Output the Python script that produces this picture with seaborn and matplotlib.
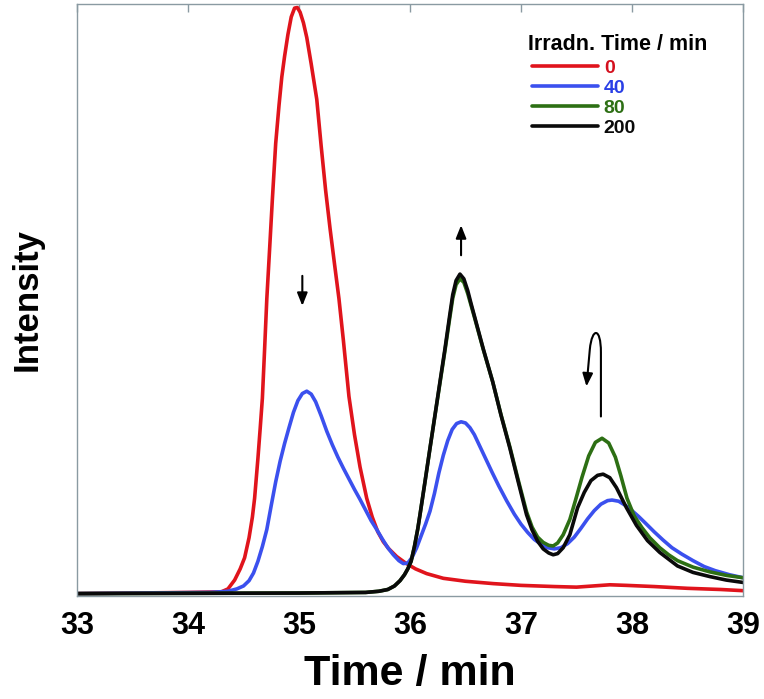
import matplotlib
matplotlib.use("Agg")
import matplotlib.pyplot as plt
import pandas as pd
import seaborn as sns
from matplotlib.lines import Line2D
from matplotlib.patches import FancyArrowPatch
from matplotlib.path import Path

# irradiation times (min) and their chromatogram traces
irr_labels = ["0", "40", "80", "200"]

red_t = [33.0, 34.0, 34.30, 34.36, 34.42, 34.47, 34.51, 34.55, 34.58, 34.60, 34.63,
         34.65, 34.67, 34.69, 34.71, 34.735, 34.76, 34.79, 34.82, 34.845, 34.87, 34.90,
         34.93, 34.96, 34.985, 35.01, 35.04, 35.07, 35.11, 35.16, 35.20, 35.24, 35.28,
         35.32, 35.36, 35.40, 35.45, 35.50, 35.55, 35.61, 35.66, 35.71, 35.76, 35.81,
         35.88, 35.96, 36.05, 36.15, 36.30, 36.50, 36.75, 37.00, 37.30, 37.50, 37.65,
         37.80, 37.95, 38.20, 38.50, 38.80, 39.0]
red_v = [0.0, 0.2, 0.3, 0.8, 2.3, 4.2, 6.1, 9.5, 13.0, 16.2, 23.0,
         28.0, 33.2, 41.5, 50.1, 58.5, 67.0, 76.5, 83.0, 87.8, 91.3, 95.0,
         98.0, 99.5, 99.6, 98.8, 97.0, 94.5, 90.0, 84.0, 76.0, 68.5, 62.0,
         56.0, 50.1, 43.0, 33.5, 27.0, 21.5, 16.2, 13.0, 10.5, 8.8, 7.6,
         6.3, 5.2, 4.2, 3.4, 2.6, 2.1, 1.7, 1.4, 1.2, 1.1, 1.3,
         1.5, 1.4, 1.2, 0.9, 0.7, 0.5]

blue_t = [33.0, 34.20, 34.36, 34.44, 34.50, 34.55, 34.59, 34.63, 34.67, 34.71, 34.75,
          34.79, 34.83, 34.87, 34.91, 34.95, 34.99, 35.03, 35.07, 35.11, 35.15, 35.20,
          35.25, 35.30, 35.35, 35.40, 35.45, 35.50, 35.55, 35.60, 35.65, 35.70, 35.75,
          35.80, 35.85, 35.90, 35.94, 35.98, 36.02, 36.06, 36.10, 36.14, 36.18, 36.22,
          36.26, 36.30, 36.34, 36.38, 36.42, 36.46, 36.50, 36.54, 36.58, 36.63, 36.68,
          36.74, 36.80, 36.87, 36.94, 37.00, 37.06, 37.12, 37.18, 37.24, 37.30, 37.36,
          37.42, 37.48, 37.54, 37.60, 37.66, 37.72, 37.78, 37.82, 37.88, 37.94, 38.00,
          38.06, 38.12, 38.20, 38.28, 38.36, 38.45, 38.55, 38.65, 38.75, 38.88, 39.0]
blue_v = [0.0, 0.2, 0.4, 0.8, 1.3, 2.2, 3.5, 5.5, 8.0, 10.9, 15.0,
          19.0, 22.5, 25.5, 28.2, 30.8, 32.8, 34.0, 34.4, 33.9, 32.6, 30.2,
          27.6, 25.3, 23.2, 21.3, 19.5, 17.7, 16.0, 14.2, 12.4, 10.9, 9.3,
          7.8, 6.6, 5.6, 5.1, 5.2, 6.2, 7.8, 9.8, 11.8, 14.0, 17.0,
          20.5, 23.5, 26.0, 27.9, 28.9, 29.2, 29.0, 28.2, 27.0, 25.0, 23.0,
          20.6, 18.3, 15.8, 13.5, 11.8, 10.4, 9.2, 8.4, 7.8, 7.6, 7.8,
          8.5, 9.6, 11.1, 12.7, 14.1, 15.2, 15.8, 15.9, 15.7, 15.0, 14.1,
          13.1, 12.0, 10.5, 9.1, 7.8, 6.7, 5.6, 4.6, 3.9, 3.2, 2.7]

green_t = [33.0, 35.0, 35.60, 35.72, 35.80, 35.86, 35.91, 35.95, 35.98, 36.01, 36.04,
           36.07, 36.09, 36.135, 36.18, 36.225, 36.27, 36.315, 36.357, 36.385, 36.415, 36.45,
           36.485, 36.52, 36.55, 36.58, 36.66, 36.745, 36.82, 36.90, 36.975, 37.05, 37.10,
           37.15, 37.20, 37.25, 37.29, 37.33, 37.38, 37.44, 37.49, 37.55, 37.61, 37.67,
           37.73, 37.79, 37.85, 37.90, 37.955, 38.02, 38.09, 38.16, 38.25, 38.33, 38.41,
           38.55, 38.70, 38.85, 39.0]
green_v = [0.0, 0.1, 0.2, 0.4, 0.7, 1.3, 2.2, 3.2, 4.2, 5.5, 8.0,
           11.0, 13.4, 19.0, 24.7, 30.3, 35.8, 41.3, 46.7, 50.2, 52.5, 53.5,
           52.9, 51.0, 49.0, 47.0, 41.5, 36.0, 30.4, 24.9, 19.3, 13.9, 11.3,
           9.6, 8.7, 8.2, 8.1, 8.6, 10.0, 12.6, 15.8, 19.8, 23.4, 25.7,
           26.4, 25.6, 23.2, 20.0, 16.2, 13.2, 11.2, 9.5, 7.8, 6.6, 5.6,
           4.5, 3.7, 3.1, 2.7]

black_t = [33.0, 35.0, 35.60, 35.72, 35.80, 35.86, 35.91, 35.95, 35.98, 36.01, 36.04,
           36.07, 36.09, 36.135, 36.18, 36.225, 36.27, 36.315, 36.357, 36.385, 36.415, 36.45,
           36.485, 36.52, 36.55, 36.58, 36.66, 36.745, 36.82, 36.90, 36.975, 37.05, 37.10,
           37.15, 37.20, 37.25, 37.29, 37.33, 37.38, 37.44, 37.51, 37.57, 37.63, 37.69,
           37.74, 37.80, 37.86, 37.95, 38.04, 38.14, 38.25, 38.41, 38.55, 38.70, 38.85,
           39.0]
black_v = [0.0, 0.1, 0.2, 0.4, 0.7, 1.3, 2.2, 3.2, 4.2, 5.5, 8.0,
           11.0, 13.4, 19.0, 24.7, 30.3, 36.0, 41.6, 47.2, 50.8, 53.2, 54.3,
           53.5, 51.5, 49.3, 47.2, 41.6, 36.0, 30.3, 24.7, 19.0, 13.4, 10.8,
           8.9, 7.6, 6.9, 6.6, 6.8, 7.8, 10.0, 14.6, 17.2, 19.2, 20.1,
           20.3, 19.7, 18.0, 14.6, 11.6, 9.0, 7.0, 4.7, 3.6, 2.9, 2.3,
           1.9]

line_colors = ["#e0141c", "#3b50ee", "#2d6f14", "#0a0a0a"]
text_colors = ["#d4101e", "#2a3fe6", "#2d6f14", "#0a0a0a"]
frame_color = "#8a9aa2"

frames = []
for lab, t, v in zip(irr_labels, [red_t, blue_t, green_t, black_t],
                     [red_v, blue_v, green_v, black_v]):
    frames.append(pd.DataFrame({"time": t, "intensity": v, "irr": lab}))
df = pd.concat(frames, ignore_index=True)

sns.set_style("white")
plt.rcParams["font.family"] = ["Liberation Sans", "DejaVu Sans"]
plt.rcParams["text.color"] = "black"
plt.rcParams["axes.labelcolor"] = "black"

fig = plt.figure(figsize=(7.64, 6.99), dpi=100)
ax = fig.add_axes([0.1008, 0.1474, 0.8717, 0.8469])

sns.lineplot(
    data=df, x="time", y="intensity", hue="irr",
    palette=dict(zip(irr_labels, line_colors)),
    estimator=None, sort=False, lw=2.6, legend=False, ax=ax,
)

ax.set_xlim(33, 39)
ax.set_ylim(-0.4, 100.2)
ax.set_xticks(range(33, 40))
ax.set_yticks([])
ax.tick_params(axis="x", direction="in", top=True, length=6, width=1,
               color=frame_color, labelcolor="black", labelsize=22, pad=11)
for lbl in ax.get_xticklabels():
    lbl.set_fontweight("bold")
for sp in ax.spines.values():
    sp.set_color(frame_color)
    sp.set_linewidth(1.0)

ax.set_xlabel("Time / min", fontsize=31, fontweight="bold", labelpad=9)
ax.set_ylabel("Intensity", fontsize=25, fontweight="bold", labelpad=24)

# arrows showing how the peaks change with irradiation
arrow_kw = dict(arrowstyle="-|>,head_length=0.55,head_width=0.22", color="black",
                lw=1.5, shrinkA=0, shrinkB=0, mutation_scale=14)
ax.annotate("", xy=(35.03, 48.9), xytext=(35.03, 54.0), arrowprops=arrow_kw)
ax.annotate("", xy=(36.46, 62.6), xytext=(36.46, 57.5), arrowprops=arrow_kw)
loop = Path(
    [(37.72, 30.1), (37.72, 41.0), (37.72, 45.3), (37.64, 45.3), (37.62, 41.5), (37.59, 35.2)],
    [Path.MOVETO, Path.LINETO, Path.CURVE4, Path.CURVE4, Path.CURVE4, Path.LINETO],
)
ax.add_patch(FancyArrowPatch(path=loop, **arrow_kw))

# legend title as separate text so the gap to the entries can match
ax.text(0.677, 0.932, "Irradn. Time / min", transform=ax.transAxes,
        ha="left", va="center", fontsize=15.5, fontweight="bold")
handles = [Line2D([], [], color=c, lw=2.6) for c in line_colors]
leg = ax.legend(
    handles, irr_labels, loc="upper left",
    bbox_to_anchor=(0.683, 0.906), frameon=False, fontsize=14,
    handlelength=3.4, handletextpad=0.3, labelspacing=0.12, borderpad=0,
    labelcolor=text_colors, borderaxespad=0,
)
for txt in leg.get_texts():
    txt.set_fontweight("bold")

fig.savefig("out.png", dpi=100)
